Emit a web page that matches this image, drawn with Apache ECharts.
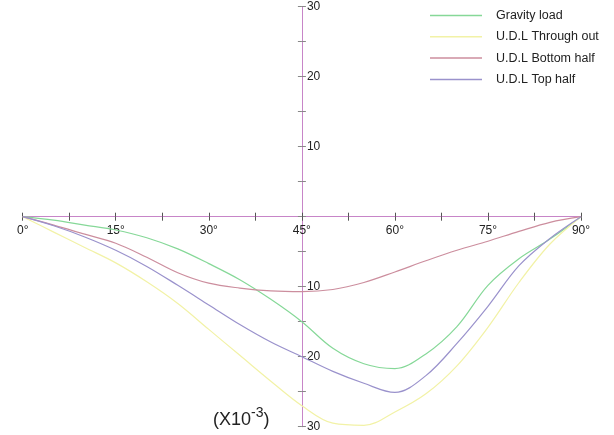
<!DOCTYPE html>
<html>
<head>
<meta charset="utf-8">
<script src="https://cdn.jsdelivr.net/npm/echarts@6/dist/echarts.min.js"></script>
<style>
  html, body { margin: 0; padding: 0; background: #fff; }
  #chart { width: 614px; height: 435px; }
</style>
</head>
<body>
<div id="chart"></div>
<script>
  // angle in degrees, deflection values (x10^-3)
  var angles = [0, 5, 10, 15, 20, 25, 30, 35, 40, 45, 50, 55, 60, 65, 70, 75, 80, 85, 90];
  var gravityLoad = [0, -0.5, -1.2, -1.9, -3.0, -4.6, -6.7, -9.0, -11.8, -15.0, -18.8, -21.0, -21.7, -19.6, -15.7, -9.8, -6.0, -3.2, 0];
  var udlThrough  = [0, -2.2, -4.4, -6.6, -9.3, -12.4, -16.1, -19.8, -23.5, -27.0, -29.5, -29.8, -27.9, -25.3, -21.3, -15.8, -9.4, -3.9, 0];
  var udlBottom   = [0, -1.2, -2.5, -3.8, -5.8, -8.0, -9.5, -10.2, -10.6, -10.7, -10.4, -9.4, -7.9, -6.3, -4.8, -3.5, -2.1, -0.8, 0];
  var udlTop      = [0, -1.3, -2.9, -4.8, -7.1, -9.8, -12.6, -15.4, -17.9, -20.0, -22.1, -23.8, -25.1, -22.7, -18.1, -12.8, -7.0, -3.1, 0];

  var seriesNames = ['Gravity load', 'U.D.L Through out', 'U.D.L Bottom half', 'U.D.L Top half'];
  var seriesColors = ['#86d898', '#f2f2a6', '#cc8e9e', '#9a92cc'];
  var axisColor = '#c785c8';
  var font = 'Liberation Sans, Arial, sans-serif';

  function pairs(vals) {
    return angles.map(function (a, i) { return [a, vals[i]]; });
  }

  var chart = echarts.init(document.getElementById('chart'));

  var xBase = {
    type: 'value',
    min: 0,
    max: 90,
    interval: 7.5,
    splitLine: { show: false }
  };
  var yBase = {
    type: 'value',
    min: -30,
    max: 30,
    interval: 5,
    position: 'left',
    offset: -279.2,
    axisLine: { onZero: false, lineStyle: { color: axisColor, width: 1 } },
    splitLine: { show: false }
  };

  chart.setOption({
    animation: false,
    grid: [
      { left: 22.7, right: 33, top: 6.7, bottom: 8.3, outerBoundsMode: 'none', containLabel: false },
      // upper half only, its bottom edge carries the angle labels under the zero line
      { left: 22.7, right: 33, top: 6.7, bottom: 218.3, outerBoundsMode: 'none', containLabel: false }
    ],
    legend: {
      orient: 'vertical',
      left: 425,
      top: 3.5,
      itemWidth: 52,
      itemHeight: 1.5,
      itemGap: 7.3,
      icon: 'rect',
      data: seriesNames,
      textStyle: {
        fontFamily: font,
        fontSize: 12.5,
        lineHeight: 14,
        color: '#222',
        padding: [0, 0, 0, 9]
      }
    },
    xAxis: [
      Object.assign({}, xBase, {
        gridIndex: 0,
        axisLine: { onZero: true, onZeroAxisIndex: 0, lineStyle: { color: axisColor, width: 1 } },
        axisTick: { length: 4, lineStyle: { color: '#555' } },
        axisLabel: { show: false }
      }),
      Object.assign({}, xBase, {
        gridIndex: 0,
        position: 'bottom',
        axisLine: { onZero: true, onZeroAxisIndex: 1, lineStyle: { color: axisColor, width: 1 } },
        axisTick: { inside: true, length: 4, lineStyle: { color: '#555' } },
        axisLabel: { show: false }
      }),
      Object.assign({}, xBase, {
        gridIndex: 1,
        position: 'bottom',
        axisLine: { show: false, onZero: false },
        axisTick: { show: false },
        axisLabel: {
          margin: 8,
          color: '#222',
          fontSize: 12,
          fontFamily: font,
          formatter: function (v) { return v % 15 === 0 ? v + '°' : ''; }
        }
      })
    ],
    yAxis: [
      Object.assign({}, yBase, {
        gridIndex: 0,
        axisTick: { length: 4, lineStyle: { color: '#888' } },
        axisLabel: {
          inside: true,
          margin: 5,
          color: '#222',
          fontSize: 12,
          fontFamily: font,
          formatter: function (v) { return (v !== 0 && v % 10 === 0) ? String(Math.abs(v)) : ''; }
        }
      }),
      Object.assign({}, yBase, {
        gridIndex: 0,
        axisTick: { inside: true, length: 4, lineStyle: { color: '#888' } },
        axisLabel: { show: false }
      }),
      { type: 'value', gridIndex: 1, show: false, min: 0, max: 30 }
    ],
    graphic: [{
      type: 'text',
      left: 213,
      top: 406,
      style: {
        text: '{b|(X10}{s|-3}{b|)}',
        rich: {
          b: { fontSize: 18, fontFamily: font, fill: '#222', verticalAlign: 'bottom', lineHeight: 23 },
          s: { fontSize: 14, fontFamily: font, fill: '#222', verticalAlign: 'top', lineHeight: 23, padding: [0, 0, 8, 0] }
        }
      }
    }],
    series: [gravityLoad, udlThrough, udlBottom, udlTop].map(function (vals, i) {
      return {
        name: seriesNames[i],
        type: 'line',
        xAxisIndex: 0,
        yAxisIndex: 0,
        smooth: 0.35,
        showSymbol: false,
        data: pairs(vals),
        itemStyle: { color: seriesColors[i] },
        lineStyle: { color: seriesColors[i], width: 1.2 }
      };
    })
  });
</script>
</body>
</html>
